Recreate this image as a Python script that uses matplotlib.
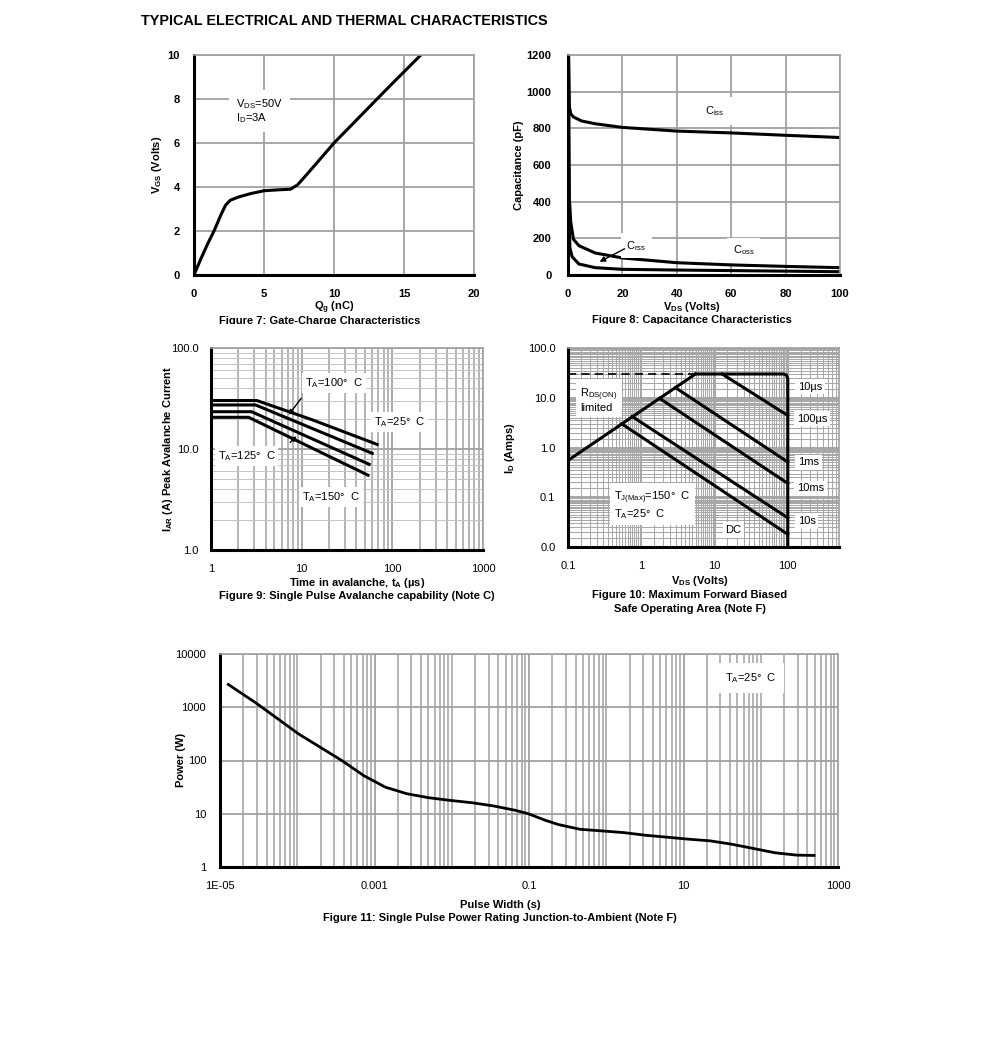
import numpy as np
import matplotlib
matplotlib.use("Agg")
import matplotlib.pyplot as plt
from matplotlib.ticker import FixedLocator, LogLocator, NullFormatter, FixedFormatter
from matplotlib.patches import Rectangle

plt.rcParams['font.family'] = ['Liberation Sans', 'DejaVu Sans']
plt.rcParams['mathtext.default'] = 'regular'

# ---- data ----
# Figure 7: gate charge
qg = [0, 0.5, 1.0, 1.43, 1.9, 2.26, 2.6, 3.2, 4.05, 5.0, 6.0, 6.9, 7.4, 8.1, 10.0, 12.0, 14.0, 16.2, 17.0]
vgs = [0, 0.75, 1.45, 2.0, 2.7, 3.18, 3.4, 3.55, 3.7, 3.83, 3.87, 3.9, 4.1, 4.6, 6.0, 7.3, 8.6, 10.0, 10.5]

# Figure 8: capacitance
vds_c = [0.2, 0.5, 1, 2, 5, 10, 20, 40, 60, 80, 100]
ciss = [1200, 918, 880, 862, 840, 825, 805, 785, 775, 762, 750]
vds_o = [0.2, 0.5, 1, 2, 4, 10, 20, 40, 60, 80, 100]
coss = [1200, 420, 290, 195, 160, 120, 93, 67, 55, 47, 40]
vds_r = [0.2, 0.4, 0.7, 1.5, 4, 10, 20, 40, 60, 80, 100]
crss = [700, 300, 150, 100, 60, 40, 31, 27, 24, 21, 18]

# Figure 9: avalanche capability
t_av = {
    '25': ([1, 3.2, 13, 68], [30.2, 30.2, 19.5, 11.1]),
    '100': ([1, 3.1, 60], [27.3, 27.3, 9.06]),
    '125': ([1, 2.8, 55.6], [23.4, 23.4, 7.05]),
    '150': ([1, 2.6, 54], [20.6, 20.6, 5.5]),
}

# Figure 10: safe operating area
rds_v = [0.1, 5.5]
rds_i = [0.55, 30]
env_v = [5.5, 88, 96, 100, 100]
env_i = [30, 30, 28.5, 24, 0.01]
soa_lines = {
    '10us': ([12.7, 100], [30, 4.4]),
    '100us': ([2.92, 100], [16, 0.51]),
    '1ms': ([1.78, 100], [9.7, 0.19]),
    '10s': ([0.75, 100], [4.2, 0.0386]),
    'DC': ([0.54, 100], [3.0, 0.018]),
}

# Figure 11: single pulse power
pw = [1.28e-5, 2.88e-5, 1.05e-4, 3.81e-4, 7.26e-4, 1.38e-3, 2.64e-3, 5.03e-3, 9.6e-3, 0.0183,
      0.0349, 0.0665, 0.098, 0.164, 0.242, 0.461, 0.88, 1.68, 3.2, 6.1, 11.6, 22, 42, 80, 153, 293, 490]
ppk = [2680, 1220, 313, 99, 52, 31.6, 23.7, 20, 17.8, 16.1, 14, 11.6, 10, 7.5, 6.25, 5.1, 4.76,
       4.43, 3.95, 3.63, 3.33, 3.1, 2.68, 2.23, 1.85, 1.67, 1.65]

W, H = 991, 1042
fig = plt.figure(figsize=(W / 100, H / 100), dpi=100)
GRID = '#a0a0a0'
GRID_MINOR = '#c4c4c4'


def box(l, t, r, b):
    return [l / W, 1 - b / H, (r - l) / W, (b - t) / H]


def ftxt(x, y, s, **kw):
    fig.text(x / W, 1 - y / H, s, **kw)


def style(ax):
    for s in ['left', 'bottom']:
        ax.spines[s].set_color('black')
        ax.spines[s].set_linewidth(2.2)
    for s in ['top', 'right']:
        ax.spines[s].set_color(GRID)
        ax.spines[s].set_linewidth(1.2)
    ax.tick_params(which='both', length=0)
    ax.set_axisbelow(True)


wbox = dict(facecolor='white', edgecolor='none', pad=2)

ftxt(141, 21, 'TYPICAL ELECTRICAL AND THERMAL CHARACTERISTICS', fontsize=10.4, fontweight='bold', va='center')

# ---- Figure 7 ----
ax7 = fig.add_axes(box(194, 55, 474, 275))
ax7.plot(qg, vgs, color='black', lw=2.2, solid_capstyle='round')
ax7.set_xlim(0, 20)
ax7.set_ylim(0, 10)
ax7.set_xticks(range(0, 21, 5))
ax7.set_yticks(range(0, 11, 2))
ax7.grid(True, color=GRID, lw=1.3)
style(ax7)
ax7.tick_params(axis='x', pad=10, labelsize=8)
ax7.tick_params(axis='y', pad=10, labelsize=8)
for lab in ax7.get_xticklabels() + ax7.get_yticklabels():
    lab.set_fontweight('bold')
ax7.text(3.0, 7.45, 'V$_{DS}$=50V\nI$_D$=3A', fontsize=8, va='center', ha='left', linespacing=1.1,
         bbox=dict(facecolor='white', edgecolor='none', pad=5))
ftxt(157, 165, 'V$_{GS}$ (Volts)', rotation=90, fontsize=8, fontweight='bold', ha='center', va='center')
ftxt(334, 308, 'Q$_g$ (nC)', fontsize=8, fontweight='bold', ha='center', va='center')
ftxt(320, 321, 'Figure 7: Gate-Charge Characteristics', fontsize=8, fontweight='bold', ha='center', va='center')

# ---- Figure 8 ----
ax8 = fig.add_axes(box(568, 55, 840, 275))
ax8.plot(vds_c, ciss, color='black', lw=2.2)
ax8.plot(vds_o, coss, color='black', lw=2.2)
ax8.plot(vds_r, crss, color='black', lw=2.2)
ax8.set_xlim(0, 100)
ax8.set_ylim(0, 1200)
ax8.set_xticks(range(0, 101, 20))
ax8.set_yticks(range(0, 1201, 200))
ax8.grid(True, color=GRID, lw=1.3)
style(ax8)
ax8.tick_params(axis='x', pad=10, labelsize=8)
ax8.tick_params(axis='y', pad=12, labelsize=8)
for lab in ax8.get_xticklabels() + ax8.get_yticklabels():
    lab.set_fontweight('bold')
ax8.text(50.5, 895, 'C$_{iss}$', fontsize=8, va='center', bbox=dict(facecolor='white', edgecolor='none', pad=5))
ax8.text(21.5, 160, 'C$_{rss}$', fontsize=8, va='center', bbox=dict(facecolor='white', edgecolor='none', pad=4))
ax8.text(60.5, 136, 'C$_{oss}$', fontsize=8, va='center', bbox=dict(facecolor='white', edgecolor='none', pad=4))
ax8.annotate('', xy=(10.7, 65), xytext=(21.7, 150),
             arrowprops=dict(arrowstyle='-|>', color='black', lw=1.0, mutation_scale=8))
ftxt(519, 165, 'Capacitance (pF)', rotation=90, fontsize=8, fontweight='bold', ha='center', va='center')
ftxt(692, 307, 'V$_{DS}$ (Volts)', fontsize=8, fontweight='bold', ha='center', va='center')
ftxt(692, 320, 'Figure 8: Capacitance Characteristics', fontsize=8, fontweight='bold', ha='center', va='center')
fig.patches.append(Rectangle((150 / W, 1 - 332 / H), 700 / W, 8 / H, transform=fig.transFigure,
                             facecolor='white', edgecolor='none', zorder=10))

# ---- Figure 9 ----
ax9 = fig.add_axes(box(211, 348, 483, 550))
for key in ['25', '100', '125', '150']:
    x, y = t_av[key]
    ax9.plot(x, y, color='black', lw=2.2)
ax9.set_xscale('log')
ax9.set_yscale('log')
ax9.set_xlim(1, 1000)
ax9.set_ylim(1, 100)
ax9.xaxis.set_major_locator(FixedLocator([1, 10, 100, 1000]))
ax9.xaxis.set_major_formatter(FixedFormatter(['1', '10', '100', '1000']))
ax9.yaxis.set_major_locator(FixedLocator([1, 10, 100]))
ax9.yaxis.set_major_formatter(FixedFormatter(['1.0', '10.0', '100.0']))
ax9.xaxis.set_minor_locator(LogLocator(subs=np.arange(2, 10)))
ax9.yaxis.set_minor_locator(LogLocator(subs=np.arange(2, 10)))
ax9.xaxis.set_minor_formatter(NullFormatter())
ax9.yaxis.set_minor_formatter(NullFormatter())
ax9.grid(True, which='major', color=GRID, lw=1.3)
ax9.grid(True, which='minor', axis='x', color=GRID, lw=1.1)
ax9.grid(True, which='minor', axis='y', color=GRID_MINOR, lw=0.7)
style(ax9)
ax9.tick_params(axis='x', pad=10, labelsize=8)
ax9.tick_params(axis='y', pad=9, labelsize=8)
ax9.text(10.9, 45, 'T$_A$=100°  C', fontsize=8, va='center', bbox=wbox)
ax9.text(62.7, 18.5, 'T$_A$=25°  C', fontsize=8, va='center', bbox=wbox)
ax9.text(1.19, 8.5, 'T$_A$=125°  C', fontsize=8, va='center', bbox=wbox)
ax9.text(10.1, 3.35, 'T$_A$=150°  C', fontsize=8, va='center', bbox=wbox)
ax9.annotate('', xy=(6.9, 20.7), xytext=(10.3, 33.4),
             arrowprops=dict(arrowstyle='-|>', color='black', lw=1.0, mutation_scale=7))
ax9.annotate('', xy=(9.2, 14.0), xytext=(7.1, 11.1),
             arrowprops=dict(arrowstyle='-|>', color='black', lw=1.0, mutation_scale=7))
ftxt(168, 449, 'I$_{AR}$ (A) Peak Avalanche Current', rotation=90, fontsize=8, fontweight='bold',
     ha='center', va='center')
ftxt(357, 583, 'Time in avalanche, t$_A$ (µs)', fontsize=8, fontweight='bold', ha='center', va='center')
ftxt(357, 596, 'Figure 9: Single Pulse Avalanche capability (Note C)', fontsize=8, fontweight='bold',
     ha='center', va='center')

# ---- Figure 10 ----
ax10 = fig.add_axes(box(568, 348, 839, 547))
ax10.plot([0.1, 5.5], [30, 30], color='black', lw=1.2, ls=(0, (5, 3)))
ax10.plot(rds_v, rds_i, color='black', lw=2.2)
ax10.plot(env_v, env_i, color='black', lw=2.2)
for key in ['10us', '100us', '1ms', '10s', 'DC']:
    x, y = soa_lines[key]
    ax10.plot(x, y, color='black', lw=2.2)
ax10.set_xscale('log')
ax10.set_yscale('log')
ax10.set_xlim(0.1, 500)
ax10.set_ylim(0.01, 100)
ax10.xaxis.set_major_locator(FixedLocator([0.1, 1, 10, 100]))
ax10.xaxis.set_major_formatter(FixedFormatter(['0.1', '1', '10', '100']))
ax10.yaxis.set_major_locator(FixedLocator([0.01, 0.1, 1, 10, 100]))
ax10.yaxis.set_major_formatter(FixedFormatter(['0.0', '0.1', '1.0', '10.0', '100.0']))
dense = np.arange(1.5, 10, 0.5)
ax10.xaxis.set_minor_locator(LogLocator(subs=dense, numticks=30))
ax10.yaxis.set_minor_locator(LogLocator(subs=dense, numticks=30))
ax10.xaxis.set_minor_formatter(NullFormatter())
ax10.yaxis.set_minor_formatter(NullFormatter())
ax10.grid(True, which='major', color=GRID, lw=1.3)
ax10.grid(True, which='minor', color='#a8a8a8', lw=0.75)
style(ax10)
ax10.tick_params(axis='x', pad=10, labelsize=8)
ax10.tick_params(axis='y', pad=9, labelsize=8)
ax10.text(0.146, 9.2, 'R$_{DS(ON)}$\nlimited', fontsize=8, va='center', linespacing=0.95,
          bbox=dict(facecolor='white', edgecolor='none', pad=3))
ax10.text(137, 16.8, '10µs', fontsize=8, va='center', bbox=wbox)
ax10.text(132, 3.8, '100µs', fontsize=8, va='center', bbox=wbox)
ax10.text(137, 0.5, '1ms', fontsize=8, va='center', bbox=wbox)
ax10.text(132, 0.151, '10ms', fontsize=8, va='center', bbox=wbox)
ax10.text(137, 0.033, '10s', fontsize=8, va='center', bbox=wbox)
ax10.text(14.1, 0.022, 'DC', fontsize=8, va='center', bbox=wbox)
ax10.text(0.427, 0.069, 'T$_{J(Max)}$=150°  C\nT$_A$=25°  C', fontsize=8, va='center', linespacing=1.1,
          bbox=dict(facecolor='white', edgecolor='none', pad=3))
ftxt(510, 448, 'I$_D$ (Amps)', rotation=90, fontsize=8, fontweight='bold', ha='center', va='center')
ftxt(700, 581, 'V$_{DS}$ (Volts)', fontsize=8, fontweight='bold', ha='center', va='center')
ftxt(690, 595, 'Figure 10: Maximum Forward Biased', fontsize=8, fontweight='bold', ha='center', va='center')
ftxt(690, 609, 'Safe Operating Area (Note F)', fontsize=8, fontweight='bold', ha='center', va='center')

# ---- Figure 11 ----
ax11 = fig.add_axes(box(220, 654, 838, 867))
ax11.plot(pw, ppk, color='black', lw=2.0)
ax11.set_xscale('log')
ax11.set_yscale('log')
ax11.set_xlim(1e-5, 1000)
ax11.set_ylim(1, 10000)
ax11.xaxis.set_major_locator(FixedLocator([1e-5, 1e-3, 1e-1, 10, 1000]))
ax11.xaxis.set_major_formatter(FixedFormatter(['1E-05', '0.001', '0.1', '10', '1000']))
ax11.yaxis.set_major_locator(FixedLocator([1, 10, 100, 1000, 10000]))
ax11.yaxis.set_major_formatter(FixedFormatter(['1', '10', '100', '1000', '10000']))
ax11.xaxis.set_minor_locator(LogLocator(subs=np.arange(1, 10), numticks=30))
ax11.xaxis.set_minor_formatter(NullFormatter())
ax11.yaxis.set_minor_locator(FixedLocator([]))
ax11.grid(True, which='major', color=GRID, lw=1.3)
ax11.grid(True, which='minor', axis='x', color=GRID, lw=1.1)
style(ax11)
ax11.tick_params(axis='x', pad=10, labelsize=8)
ax11.tick_params(axis='y', pad=10, labelsize=8)
ax11.text(34, 3550, 'T$_A$=25°  C', fontsize=8, va='center',
          bbox=dict(facecolor='white', edgecolor='none', pad=6))
ftxt(181, 760, 'Power (W)', rotation=90, fontsize=8, fontweight='bold', ha='center', va='center')
ftxt(500, 905, 'Pulse Width (s)', fontsize=8, fontweight='bold', ha='center', va='center')
ftxt(500, 918, 'Figure 11: Single Pulse Power Rating Junction-to-Ambient (Note F)', fontsize=8,
     fontweight='bold', ha='center', va='center')

fig.savefig('out.png', dpi=100)
